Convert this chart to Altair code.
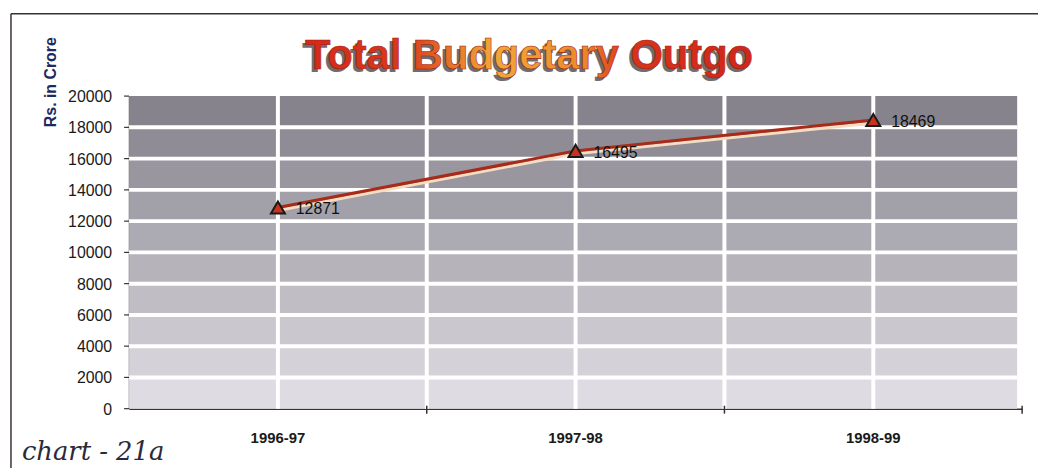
import altair as alt
import pandas as pd

# ---- data ----
categories = ["1996-97", "1997-98", "1998-99"]
outgo = [12871, 16495, 18469]
band_lows = [0, 2000, 4000, 6000, 8000, 10000, 12000, 14000, 16000, 18000]
band_step = 2000
y_ticks = [0, 2000, 4000, 6000, 8000, 10000, 12000, 14000, 16000, 18000, 20000]
title_text = "Total Budgetary Outgo"
y_title = "Rs. in Crore"
note_text = "chart - 21a"

W, H = 900, 315
FONT = "Liberation Sans, Arial, sans-serif"

df = pd.DataFrame({"year": categories, "outgo": outgo, "idx": list(range(len(categories)))})
bands = pd.DataFrame({"lo": band_lows, "hi": [v + band_step for v in band_lows]})
ticks_df = pd.DataFrame({"v": y_ticks})

xscale = alt.Scale(paddingInner=0, paddingOuter=0)
xaxis = alt.Axis(title=None, ticks=False, labelAngle=0, labelPadding=22,
                 labelFontSize=15, labelFont=FONT, labelFontWeight="bold",
                 labelColor="#1a1a1a", domainColor="#3a3035", domainWidth=1.5, grid=False)
yscale = alt.Scale(domain=[0, 20000], nice=False)
yaxis = alt.Axis(title=None, labels=False, ticks=False, grid=False,
                 domainColor="#333", domainWidth=1.5)

xenc = alt.X("year:N", sort=categories, scale=xscale, axis=xaxis)


def yenc(field):
    return alt.Y(field, scale=yscale, axis=yaxis)


bg = alt.Chart(bands).mark_rect().encode(
    x=alt.value(0), x2=alt.value(895),
    y=yenc("lo:Q"),
    y2="hi:Q",
    color=alt.Color("lo:Q", scale=alt.Scale(domain=[0, 18000], range=["#dedce2", "#86838d"]), legend=None),
)

hrules = alt.Chart(bands).transform_filter("datum.lo > 0").mark_rule(color="white", strokeWidth=4).encode(
    x=alt.value(0), x2=alt.value(895), y=yenc("lo:Q")
)

vcenter = alt.Chart(df).mark_rule(color="white", strokeWidth=4).encode(
    x=xenc, y=alt.value(0), y2=alt.value(H)
)
vbound = alt.Chart(df).transform_filter("datum.idx > 0").mark_rule(color="white", strokeWidth=4).encode(
    x=alt.X("year:N", sort=categories, scale=xscale, axis=xaxis, bandPosition=0), y=alt.value(0), y2=alt.value(H)
)

tick_left = alt.Chart(df).transform_filter("datum.idx > 0").mark_rule(color="#333", strokeWidth=1.5).encode(
    x=alt.X("year:N", sort=categories, scale=xscale, axis=xaxis, bandPosition=0), y=alt.value(H - 3), y2=alt.value(H + 5)
)
tick_right = alt.Chart(df).transform_filter("datum.idx == 2").mark_rule(color="#333", strokeWidth=1.5).encode(
    x=alt.X("year:N", sort=categories, scale=xscale, axis=xaxis, bandPosition=1), y=alt.value(H - 3), y2=alt.value(H + 5)
)

# y-axis ticks and labels drawn from the tick list through the y scale
yticks = alt.Chart(ticks_df).mark_rule(color="#333", strokeWidth=1.2).encode(
    x=alt.value(-5), x2=alt.value(0), y=yenc("v:Q")
)
ylabels = alt.Chart(ticks_df).mark_text(align="right", baseline="middle", fontSize=16, font=FONT,
                                        color="#1a1a1a", dx=-17, dy=1).encode(
    x=alt.value(0), y=yenc("v:Q"), text=alt.Text("v:Q", format="d")
)

glow = alt.Chart(df).mark_line(color="#f6dcc0", strokeWidth=3, yOffset=3).encode(
    x=xenc, y=yenc("outgo:Q")
)
line = alt.Chart(df).mark_line(color="#a82a18", strokeWidth=3).encode(
    x=xenc, y=yenc("outgo:Q")
)
pts = alt.Chart(df).mark_point(shape="triangle-up", filled=True, fill="#c8321e", stroke="#1a1a1a",
                               strokeWidth=2, size=200, opacity=1).encode(
    x=xenc, y=yenc("outgo:Q")
)
labels = alt.Chart(df).mark_text(align="left", baseline="middle", dx=18, dy=2, fontSize=16,
                                 font=FONT, color="#111").encode(
    x=xenc, y=yenc("outgo:Q"), text=alt.Text("outgo:Q", format="d")
)

grad = alt.LinearGradient(
    gradient="linear",
    stops=[
        alt.GradientStop(color="#d4281a", offset=0),
        alt.GradientStop(color="#d83a1a", offset=0.22),
        alt.GradientStop(color="#f0a838", offset=0.42),
        alt.GradientStop(color="#ec8a2c", offset=0.62),
        alt.GradientStop(color="#d8341a", offset=0.72),
        alt.GradientStop(color="#d0261a", offset=1),
    ],
    x1=0, x2=1, y1=0, y2=0,
)
tdf = pd.DataFrame({"t": [title_text]})
title_shadow = alt.Chart(tdf).mark_text(fontSize=42, font=FONT, fontWeight="bold", color="#6f6d72",
                                        align="center", baseline="alphabetic", dx=-3, dy=3).encode(
    x=alt.value(403), y=alt.value(-27), text="t:N"
)
title_main = alt.Chart(tdf).mark_text(fontSize=42, font=FONT, fontWeight="bold", fill=grad,
                                      stroke="#a01c10", strokeWidth=0.6,
                                      align="center", baseline="alphabetic").encode(
    x=alt.value(403), y=alt.value(-27), text="t:N"
)

ytitle = alt.Chart(pd.DataFrame({"t": [y_title]})).mark_text(
    fontSize=16, font=FONT, fontWeight="bold", color="#1c2a5e", angle=270,
    align="center", baseline="middle").encode(x=alt.value(-79), y=alt.value(-14), text="t:N")

note = alt.Chart(pd.DataFrame({"t": [note_text]})).mark_text(
    fontSize=26, font="DejaVu Serif", fontStyle="italic", color="#2a2a3a",
    align="left", baseline="alphabetic").encode(x=alt.value(-108), y=alt.value(367), text="t:N")

frame_top = alt.Chart(tdf).mark_rule(color="#3a3035", strokeWidth=1.5).encode(
    x=alt.value(-119), x2=alt.value(916), y=alt.value(-83))
frame_left = alt.Chart(tdf).mark_rule(color="#3a3035", strokeWidth=1.5).encode(
    x=alt.value(-119), y=alt.value(-83), y2=alt.value(375))

chart = alt.layer(
    bg, hrules, vcenter, vbound, tick_left, tick_right, yticks, ylabels, glow, line, pts, labels,
    title_shadow, title_main, ytitle, note, frame_top, frame_left
).properties(
    width=W, height=H,
    autosize=alt.AutoSizeParams(type="none"),
    padding={"left": 122, "top": 87, "right": 16, "bottom": 58},
    background="white",
).configure_view(stroke=None)

chart.save("out.html", embed_options={"renderer": "svg", "actions": False})
